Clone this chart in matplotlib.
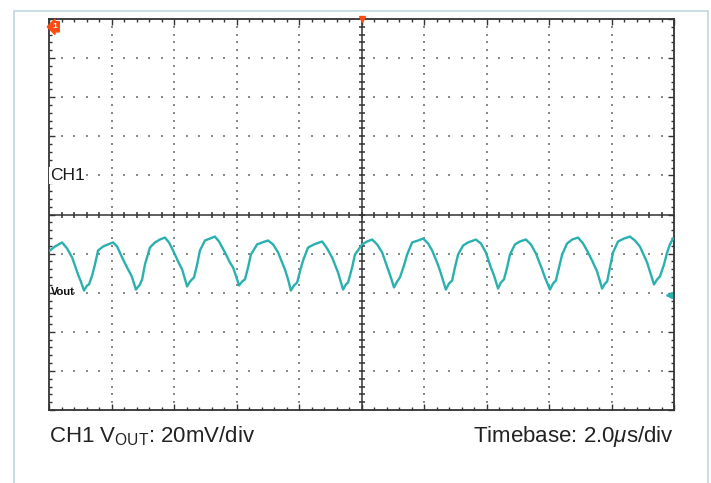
#==[0] Prep environment
import matplotlib.pyplot as plt
import numpy as np
from matplotlib.patches import Rectangle

plt.rcParams['font.family'] = ['Liberation Sans', 'DejaVu Sans']
plt.rcParams['mathtext.fontset'] = 'custom'
plt.rcParams['mathtext.rm'] = 'Liberation Sans'
plt.rcParams['mathtext.it'] = 'Liberation Sans:italic'

#==[1] Trace (time in us, CH1 in mV re: centre)
#
t_us = [0.03, 0.19, 0.42, 0.58, 0.74, 0.93, 1.02, 1.12, 1.22, 1.28, 1.38, 1.47,
        1.57, 1.73, 1.89, 2.05, 2.18, 2.37, 2.53, 2.62, 2.66, 2.78, 2.91, 2.98,
        3.07, 3.23, 3.39, 3.55, 3.71, 3.84, 3.97, 4.13, 4.26, 4.29, 4.42, 4.51,
        4.64, 4.74, 4.83, 4.99, 5.15, 5.31, 5.44, 5.63, 5.79, 5.89, 5.98, 6.08,
        6.18, 6.27, 6.37, 6.46, 6.66, 6.82, 7.01, 7.17, 7.33, 7.55, 7.65, 7.74,
        7.84, 7.94, 8.03, 8.13, 8.29, 8.48, 8.74, 8.90, 9.06, 9.25, 9.41, 9.50,
        9.57, 9.70, 9.79, 10.02, 10.18, 10.34, 10.50, 10.66, 10.85, 10.94, 11.04,
        11.14, 11.23, 11.36, 11.46, 11.62, 11.81, 11.97, 12.13, 12.26, 12.42,
        12.51, 12.70, 12.80, 12.90, 12.99, 13.09, 13.25, 13.41, 13.66, 13.82,
        13.98, 14.14, 14.24, 14.37, 14.46, 14.56, 14.66, 14.75, 14.91, 15.07,
        15.26, 15.42, 15.58, 15.78, 15.87, 16.03, 16.13, 16.22, 16.32, 16.42,
        16.58, 16.74, 16.93, 17.09, 17.25, 17.41, 17.54, 17.70, 17.79, 17.86,
        17.95, 18.05, 18.21, 18.40, 18.59, 18.75, 18.91, 19.14, 19.23, 19.36,
        19.46, 19.55, 19.68, 19.78, 19.87, 19.97]
v_mv = [-18.4, -16.4, -14.3, -17.4, -22.0, -30.7, -34.3, -38.9, -36.3, -35.8,
        -31.2, -25.6, -18.4, -16.4, -15.3, -14.3, -16.4, -23.0, -28.1, -30.7,
        -32.2, -38.4, -35.8, -33.2, -25.6, -16.9, -14.3, -12.8, -11.8, -14.3,
        -18.4, -24.0, -28.1, -29.7, -36.8, -34.3, -32.2, -25.6, -18.4, -13.3,
        -12.3, -11.3, -13.8, -19.4, -24.6, -27.1, -31.2, -36.3, -34.3, -33.2,
        -27.1, -20.5, -15.3, -14.3, -13.3, -15.3, -19.4, -28.1, -33.2, -38.9,
        -36.3, -34.8, -29.2, -23.5, -16.9, -15.3, -13.8, -17.4, -22.0, -29.7,
        -38.4, -35.8, -34.8, -27.1, -20.5, -15.3, -13.8, -12.8, -15.3, -19.4,
        -28.1, -32.2, -37.3, -34.3, -32.2, -26.1, -20.5, -14.3, -13.3, -12.3,
        -14.8, -18.4, -24.6, -28.6, -38.4, -35.3, -33.8, -27.1, -20.5, -15.9,
        -14.3, -12.8, -14.8, -19.4, -27.1, -31.2, -37.9, -34.8, -33.2, -27.1,
        -20.5, -15.3, -13.8, -12.8, -15.3, -19.9, -28.1, -32.2, -38.4, -35.3,
        -33.8, -27.1, -20.5, -14.8, -12.8, -11.8, -14.8, -19.4, -24.6, -29.2,
        -37.9, -35.3, -34.3, -27.1, -19.4, -13.8, -12.3, -11.3, -13.3, -16.4,
        -24.6, -29.2, -35.8, -33.2, -31.7, -25.6, -19.4, -15.3, -12.3]

ch_label = "CH1"
trace_label = "Vout"
ref_level_mv = -41.0
scale_text = r"CH1 V$_{\mathrm{OUT}}$: 20mV/div"
time_text = r"Timebase: 2.0$\mu$s/div"

#==[2] Screen setup: 10 x 10 divisions, 2 us/div and 20 mV/div
#
t_div, v_div = 2.0, 20.0
t_lo, t_hi = 0.0, 20.0
v_lo, v_hi = -100.0, 100.0
trace_col = '#2bb0b0'
grid_col = '#8a8a8a'
frame_col = '#333333'
marker_col = '#ff4a12'

fig = plt.figure(figsize=(7.11, 4.83), dpi=100)
fig.add_artist(Rectangle((13.5 / 711, -0.05), 694 / 711, (483 - 10.5) / 483 + 0.05,
                         transform=fig.transFigure, fill=False,
                         ec='#c2d8e0', lw=1.2, clip_on=False))

ax = fig.add_axes([49 / 711, 73 / 483, 625 / 711, 391 / 483])
ax.set_xlim(t_lo, t_hi)
ax.set_ylim(v_lo, v_hi)

# dotted graticule: dots at each minor step along each division line
t_major = np.arange(t_lo + t_div, t_hi, t_div)
v_major = np.arange(v_lo + v_div, v_hi, v_div)
t_minor = np.arange(t_lo, t_hi + 1e-9, t_div / 5)[1:-1]
v_minor = np.arange(v_lo, v_hi + 1e-9, v_div / 5)[1:-1]
for tm in t_major:
    if abs(tm - 10) > 1e-9:
        ax.scatter(np.full_like(v_minor, tm), v_minor, s=2.2, marker='s',
                   color=grid_col, lw=0, zorder=1)
for vm in v_major:
    if abs(vm) > 1e-9:
        ax.scatter(t_minor, np.full_like(t_minor, vm), s=2.2, marker='s',
                   color=grid_col, lw=0, zorder=1)

# centre cross with tick marks
ax.axvline(10, color=frame_col, lw=1.1, zorder=2)
ax.axhline(0, color=frame_col, lw=1.1, zorder=2)
ax.plot(np.full_like(v_minor, 10), v_minor, ls='none', marker='_', ms=5,
        mew=1.1, color=frame_col, zorder=2)
ax.plot(t_minor, np.zeros_like(t_minor), ls='none', marker='|', ms=5,
        mew=1.1, color=frame_col, zorder=2)

# border ticks
ax.set_xticks(np.arange(t_lo, t_hi + 1e-9, t_div))
ax.set_yticks(np.arange(v_lo, v_hi + 1e-9, v_div))
ax.set_xticks(np.arange(t_lo, t_hi + 1e-9, t_div / 5), minor=True)
ax.set_yticks(np.arange(v_lo, v_hi + 1e-9, v_div / 5), minor=True)
ax.tick_params(which='both', direction='in', top=True, right=True,
               labelbottom=False, labelleft=False, color=frame_col, width=1.0)
ax.tick_params(which='major', length=4)
ax.tick_params(which='minor', length=2.5)
for sp in ax.spines.values():
    sp.set_color(frame_col)
    sp.set_linewidth(1.3)

#==[3] Trace and markers
#
ax.plot(t_us, v_mv, color=trace_col, lw=1.7, zorder=3,
        solid_joinstyle='round')

ax.text(0.03, 20, ch_label, fontsize=12.5, color='#1a1a1a', va='center',
        ha='left', zorder=4,
        bbox=dict(fc='white', ec='none', pad=0.5))
ax.text(0.05, -39.5, trace_label, fontsize=8, fontweight='bold',
        color='#111111', va='center', ha='left', zorder=4)

ax.text(0.2, 96.0, "1", fontsize=6, fontweight='bold', color='white',
        ha='center', va='center', zorder=5,
        bbox=dict(boxstyle='larrow,pad=0.2', fc=marker_col, ec=marker_col))
ax.plot([10], [v_hi], marker='v', ms=5, color=marker_col, clip_on=False,
        zorder=5)
ax.plot([19.85], [ref_level_mv], marker='<', ms=5, color=trace_col,
        zorder=5)

#==[4] Captions
#
fig.text(49 / 711, 41 / 483, scale_text, fontsize=16, color='#222222',
         ha='left', va='baseline')
fig.text(674 / 711, 41 / 483, time_text, fontsize=16, color='#222222',
         ha='right', va='baseline')

fig.savefig('out.png', dpi=100)
